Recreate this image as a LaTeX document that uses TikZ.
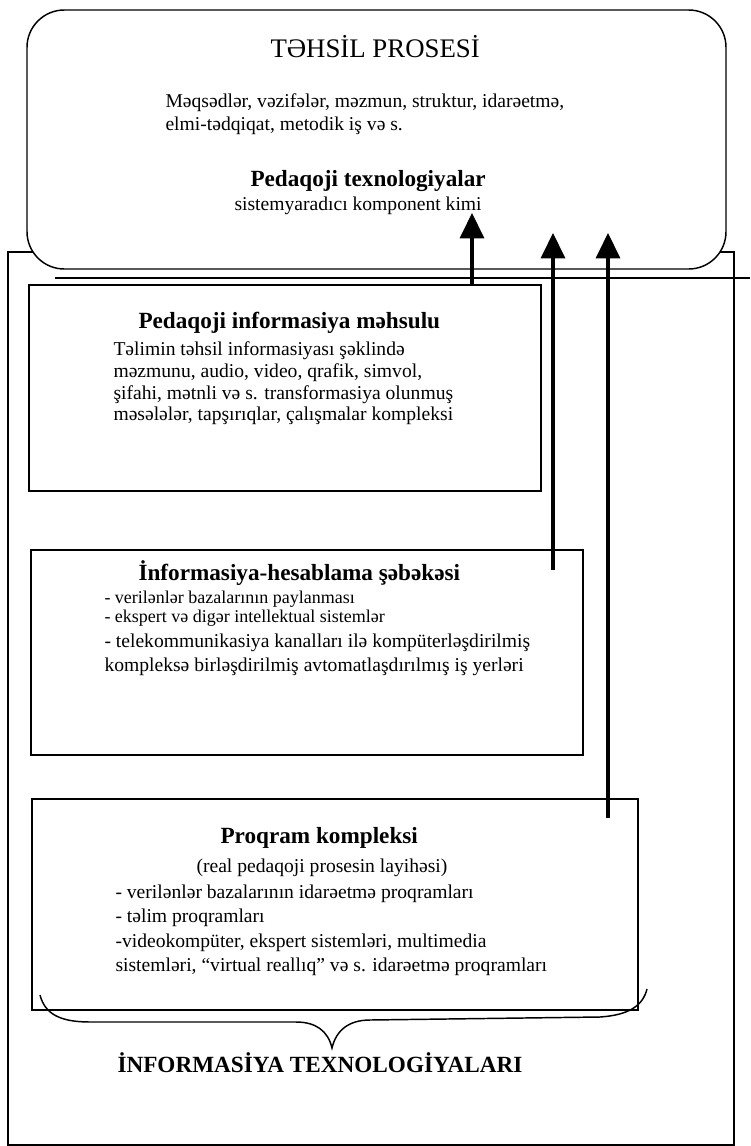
\documentclass[tikz,border=0pt]{standalone}
\usepackage{fontspec}
\setmainfont{Liberation Serif}
\usetikzlibrary{arrows.meta}

\tikzset{every picture/.style={line width=0.75pt}}
\tikzset{
  boxline/.style={draw, line width=1.1pt, inner sep=0pt},
  upflow/.style={line width=2.6pt, -{Triangle[length=19pt,width=18pt]}},
  txt/.style={anchor=base west, inner sep=0pt},
}
\newcommand{\fs}[1]{\fontsize{#1}{#1}\selectfont}

\begin{document}
\begin{tikzpicture}[x=0.75pt,y=0.75pt,yscale=-1,xscale=1]
    \useasboundingbox (0,0) rectangle (750,1146);

    %Outer frame
    \node [boxline, minimum width=544.5pt, minimum height=669.75pt] (itframe) at (371,698.5) {};
    %Rounded box
    \node [boxline, fill=white, rounded corners=28pt, minimum width=524.25pt, minimum height=194.25pt] (procbox) at (376.5,139.5) {};
    %Straight Lines
    \draw [line width=1.1pt] (55,278) -- (750,278) ;
    %Boxes
    \node [boxline, minimum width=384pt, minimum height=154.5pt] (pimbox) at (285,388) {};
    \node [boxline, minimum width=414pt, minimum height=153.75pt] (ihsbox) at (307,652.5) {};
    \node [boxline, minimum width=454.5pt, minimum height=158.25pt] (pkbox) at (335,904.5) {};

    %Arrows
    \coordinate (a1e) at (472,213);
    \coordinate (a2s) at (553,570);
    \coordinate (a2e) at (553,233);
    \coordinate (a3s) at (608,818);
    \coordinate (a3e) at (608,233);
    \draw [upflow] (pimbox.north -| a1e) -- (a1e) ;
    \draw [upflow] (a2s) -- (a2e) ;
    \draw [upflow] (a3s) -- (a3e) ;

    %Curve Lines (brace)
    \draw [line width=1.1pt] (40,995) .. controls (45,1014) and (60,1022) .. (90,1022) -- (296,1022) .. controls (316,1022) and (328,1031) .. (332,1048) .. controls (336,1031) and (348,1020) .. (370,1020) -- (600,1017) .. controls (630,1015) and (643,1005) .. (647,989) ;

    % Text Node
    \draw (270,57) node [txt] (title) {\fs{20.1pt}TƏHSİL PROSESİ};
    % Text Node
    \draw (165,107) node [txt] (goals1) {\fs{14.7pt}Məqsədlər, vəzifələr, məzmun, struktur, idarəetmə,};
    % Text Node
    \draw (165,130) node [txt] (goals2) {\fs{14.7pt}elmi-tədqiqat, metodik iş və s.};
    % Text Node
    \draw (250,186) node [txt] (pedtech) {\fs{17.4pt}\bfseries Pedaqoji texnologiyalar};
    % Text Node
    \draw (234,210) node [txt] (pedtechsub) {\fs{14.7pt}sistemyaradıcı komponent kimi};

    % Text Node
    \draw (138,328) node [txt] (pimhead) {\fs{17.4pt}\bfseries Pedaqoji informasiya məhsulu};
    % Text Node
    \draw (113,355) node [txt] (pim1) {\fs{14.7pt}Təlimin təhsil informasiyası şəklində};
    % Text Node
    \draw (113,377) node [txt] (pim2) {\fs{14.7pt}məzmunu, audio, video, qrafik, simvol,};
    % Text Node
    \draw (113,399) node [txt] (pim3) {\fs{14.7pt}şifahi, mətnli və s. transformasiya olunmuş};
    % Text Node
    \draw (113,420) node [txt] (pim4) {\fs{14.7pt}məsələlər, tapşırıqlar, çalışmalar kompleksi};

    % Text Node
    \draw (138,580) node [txt] (ihshead) {\fs{17.4pt}\bfseries İnformasiya-hesablama şəbəkəsi};
    % Text Node
    \draw (104,603) node [txt] (ihs1) {\fs{13.5pt}- verilənlər bazalarının paylanması};
    % Text Node
    \draw (104,622) node [txt] (ihs2) {\fs{13.5pt}- ekspert və digər intellektual sistemlər};
    % Text Node
    \draw (104,647) node [txt] (ihs3) {\fs{14.7pt}- telekommunikasiya kanalları ilə kompüterləşdirilmiş};
    % Text Node
    \draw (104,671) node [txt] (ihs4) {\fs{14.7pt}kompleksə birləşdirilmiş avtomatlaşdırılmış iş yerləri};

    % Text Node
    \draw (220,843) node [txt] (pkhead) {\fs{17.4pt}\bfseries Proqram kompleksi};
    % Text Node
    \draw (196,872) node [txt] (pksub) {\fs{14.7pt}(real pedaqoji prosesin layihəsi)};
    % Text Node
    \draw (115,898) node [txt] (pk1) {\fs{14.7pt}- verilənlər bazalarının idarəetmə proqramları};
    % Text Node
    \draw (115,922) node [txt] (pk2) {\fs{14.7pt}- təlim proqramları};
    % Text Node
    \draw (115,947) node [txt] (pk3) {\fs{14.7pt}-videokompüter, ekspert sistemləri, multimedia};
    % Text Node
    \draw (115,971) node [txt] (pk4) {\fs{14.7pt}sistemləri, “virtual reallıq” və s. idarəetmə proqramları};

    % Text Node
    \draw (117,1072) node [txt] (ittitle) {\fs{17.4pt}\bfseries İNFORMASİYA TEXNOLOGİYALARI};
\end{tikzpicture}
\end{document}
